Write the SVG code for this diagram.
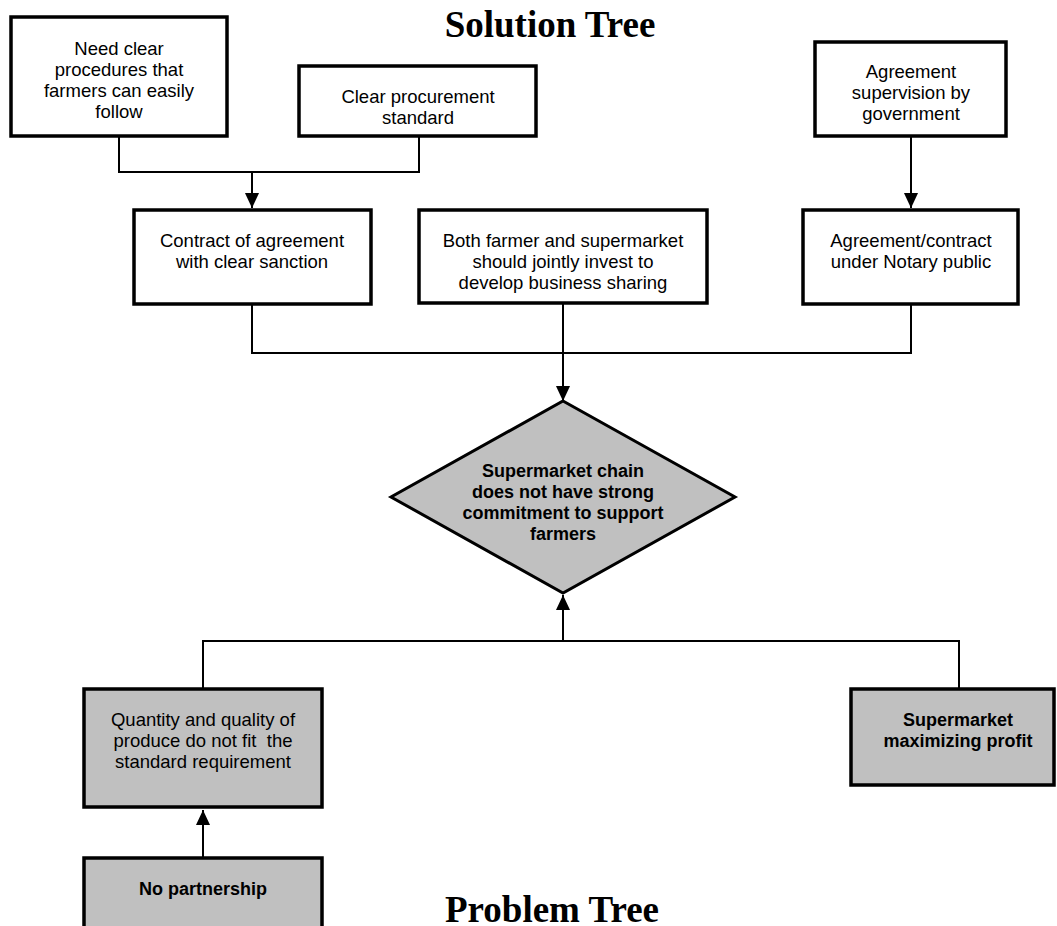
<svg xmlns="http://www.w3.org/2000/svg" width="1057" height="926" viewBox="0 0 1057 926">
<style>
.box{fill:#fff;stroke:#000;stroke-width:3.5}
.pbox{fill:#c0c0c0;stroke:#000;stroke-width:3.5}
.t{font-family:"Liberation Sans",Arial,sans-serif;font-size:18.5px;fill:#000;text-anchor:middle}
.b{font-weight:bold;font-size:18px}
.title{font-family:"Liberation Serif","Times New Roman",serif;font-weight:bold;font-size:37px;fill:#000;text-anchor:middle}
.c{fill:none;stroke:#000;stroke-width:2}
</style>
<defs>
<marker id="ah" markerUnits="userSpaceOnUse" markerWidth="15" markerHeight="16" refX="16" refY="7.5" orient="auto" viewBox="0 0 16 15">
<path d="M0,0 L16,7.5 L0,15 z" fill="#000"/>
</marker>
</defs>
<text class="title" x="550" y="37">Solution Tree</text>
<text class="title" x="552" y="922">Problem Tree</text>
<g id="connectors">
<path class="c" d="M119 137 V172 H419 V137"/>
<path class="c" d="M252 172 V208" marker-end="url(#ah)"/>
<path class="c" d="M911 137 V208" marker-end="url(#ah)"/>
<path class="c" d="M252 304 V353 H911 V304"/>
<path class="c" d="M563 303 V401" marker-end="url(#ah)"/>
<path class="c" d="M203 689 V641 H959 V689"/>
<path class="c" d="M563 641 V595" marker-end="url(#ah)"/>
<path class="c" d="M203 858 V810" marker-end="url(#ah)"/>
</g>
<g id="n1">
<rect class="box" x="11" y="17" width="216" height="119"/>
<text class="t" x="119" y="55">Need clear</text>
<text class="t" x="119" y="76">procedures that</text>
<text class="t" x="119" y="97">farmers can easily</text>
<text class="t" x="119" y="118">follow</text>
</g>
<g id="n2">
<rect class="box" x="299" y="66" width="237" height="70"/>
<text class="t" x="418" y="103">Clear procurement</text>
<text class="t" x="418" y="124">standard</text>
</g>
<g id="n3">
<rect class="box" x="815" y="42" width="191" height="94"/>
<text class="t" x="911" y="78">Agreement</text>
<text class="t" x="911" y="99">supervision by</text>
<text class="t" x="911" y="120">government</text>
</g>
<g id="n4">
<rect class="box" x="134" y="210" width="237" height="94"/>
<text class="t" x="252" y="247">Contract of agreement</text>
<text class="t" x="252" y="268">with clear sanction</text>
</g>
<g id="n5">
<rect class="box" x="419" y="210" width="288" height="93"/>
<text class="t" x="563" y="247">Both farmer and supermarket</text>
<text class="t" x="563" y="268">should jointly invest to</text>
<text class="t" x="563" y="289">develop business sharing</text>
</g>
<g id="n6">
<rect class="box" x="803" y="210" width="215" height="94"/>
<text class="t" x="911" y="247">Agreement/contract</text>
<text class="t" x="911" y="268">under Notary public</text>
</g>
<g id="core">
<polygon points="563,401 735,497 563,593 391,497" fill="#c0c0c0" stroke="#000" stroke-width="3"/>
<text class="t b" x="563" y="477">Supermarket chain</text>
<text class="t b" x="563" y="498">does not have strong</text>
<text class="t b" x="563" y="519">commitment to support</text>
<text class="t b" x="563" y="540">farmers</text>
</g>
<g id="p1">
<rect class="pbox" x="84" y="689" width="238" height="118"/>
<text class="t" x="203" y="726">Quantity and quality of</text>
<text class="t" x="203" y="747" style="white-space:pre">produce do not fit  the</text>
<text class="t" x="203" y="768">standard requirement</text>
</g>
<g id="p2">
<rect class="pbox" x="851" y="689" width="203" height="96"/>
<text class="t b" x="958" y="726">Supermarket</text>
<text class="t b" x="958" y="747">maximizing profit</text>
</g>
<g id="p3">
<rect class="pbox" x="84" y="858" width="238" height="100"/>
<text class="t b" x="203" y="895">No partnership</text>
</g>
</svg>
